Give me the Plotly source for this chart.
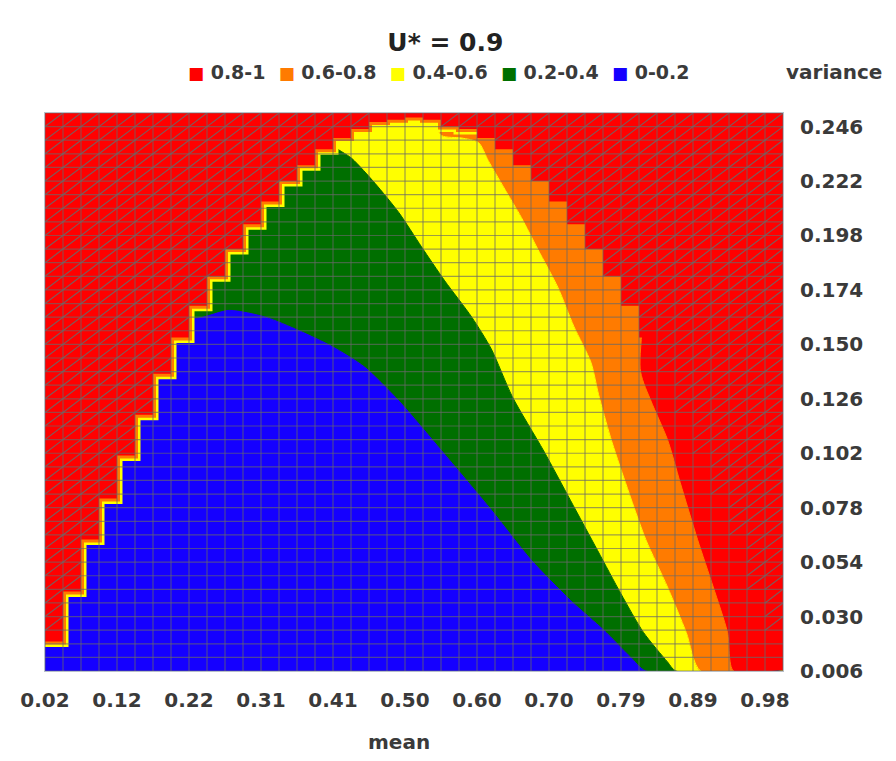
import plotly.graph_objects as go

# ---- grid (data points of the surface) ----
MEAN_GRID = [0.020, 0.044, 0.068, 0.092, 0.116, 0.140, 0.164, 0.188, 0.212, 0.236,
             0.260, 0.284, 0.308, 0.332, 0.356, 0.380, 0.404, 0.428, 0.452, 0.476,
             0.500, 0.524, 0.548, 0.572, 0.596, 0.620, 0.644, 0.668, 0.692, 0.716,
             0.740, 0.764, 0.788, 0.812, 0.836, 0.860, 0.884, 0.908, 0.932, 0.956,
             0.980, 1.004]
VAR_GRID = [0.006, 0.012, 0.018, 0.024, 0.030, 0.036, 0.042, 0.048, 0.054, 0.060,
            0.066, 0.072, 0.078, 0.084, 0.090, 0.096, 0.102, 0.108, 0.114, 0.120,
            0.126, 0.132, 0.138, 0.144, 0.150, 0.156, 0.162, 0.168, 0.174, 0.180,
            0.186, 0.192, 0.198, 0.204, 0.210, 0.216, 0.222, 0.228, 0.234, 0.240,
            0.246, 0.252]

# feasible ceiling (variance) per grid column; above it the surface is red/hatched
CEILING = [0.019, 0.041, 0.064, 0.082, 0.101, 0.119, 0.137, 0.153, 0.167, 0.180,
           0.192, 0.203, 0.213, 0.222, 0.229, 0.236, 0.241, 0.245, 0.248, 0.249,
           0.250, 0.249, 0.246, 0.245, 0.241, 0.236, 0.229, 0.222, 0.213, 0.203,
           0.192, 0.180, 0.167, 0.153, 0.137, 0.120, 0.102, 0.083, 0.063, 0.042,
           0.019]

X_TICK_LABELS = ["0.02", "0.12", "0.22", "0.31", "0.41", "0.50", "0.60", "0.70", "0.79", "0.89", "0.98"]
Y_TICK_LABELS = ["0.006", "0.030", "0.054", "0.078", "0.102", "0.126", "0.150", "0.174", "0.198", "0.222", "0.246"]

BAND_LABELS = ["0.8-1", "0.6-0.8", "0.4-0.6", "0.2-0.4", "0-0.2"]
BAND_COLORS = ["#ff0000", "#ff7b00", "#ffff00", "#006f00", "#1500ff"]

# ---- band boundaries (upper edge of each band) ----
B1_MEAN = [0.02, 0.190, 0.211, 0.266, 0.314, 0.359, 0.403, 0.446, 0.492, 0.549, 0.615, 0.668, 0.721, 0.765, 0.801, 0.821, 1.004]
B1_VAR = [0.252, 0.252, 0.162, 0.165, 0.162, 0.156, 0.149, 0.140, 0.125, 0.103, 0.077, 0.055, 0.037, 0.024, 0.012, 0.006, 0.006]

B2_MEAN = [0.02, 0.380, 0.403, 0.429, 0.460, 0.492, 0.522, 0.553, 0.589, 0.615, 0.643, 0.685, 0.721, 0.757, 0.788, 0.818, 0.850, 0.861, 1.004]
B2_VAR = [0.252, 0.252, 0.238, 0.232, 0.221, 0.208, 0.193, 0.178, 0.162, 0.148, 0.127, 0.103, 0.081, 0.059, 0.040, 0.023, 0.010, 0.006, 0.006]

B3_MEAN = [0.02, 0.529, 0.549, 0.575, 0.598, 0.611, 0.632, 0.655, 0.677, 0.704, 0.725, 0.748, 0.758, 0.774, 0.794, 0.821, 0.850, 0.875, 0.894, 1.004]
B3_VAR = [0.252, 0.252, 0.242, 0.241, 0.239, 0.231, 0.219, 0.206, 0.192, 0.175, 0.158, 0.142, 0.128, 0.109, 0.089, 0.064, 0.043, 0.023, 0.006, 0.006]

B4_MEAN = [0.02, 0.809, 0.814, 0.828, 0.850, 0.867, 0.890, 0.911, 0.930, 0.938, 1.004]
B4_VAR = [0.252, 0.252, 0.138, 0.125, 0.108, 0.089, 0.064, 0.043, 0.023, 0.006, 0.006]

RED, ORANGE, YELLOW, GREEN, BLUE = BAND_COLORS
FONT = "DejaVu Sans"
TXT = "#3a3a3a"

fig = go.Figure()


def band(xs, ys, color, fill):
    return go.Scatter(x=xs, y=ys, mode="lines", fill=fill, fillcolor=color,
                      line=dict(color=color, width=1, shape="spline", smoothing=0.7),
                      hoverinfo="skip", showlegend=False)


# filled bands
fig.add_trace(band(B1_MEAN, B1_VAR, BLUE, "tozeroy"))
fig.add_trace(band(B2_MEAN, B2_VAR, GREEN, "tonexty"))
fig.add_trace(band(B3_MEAN, B3_VAR, YELLOW, "tonexty"))
fig.add_trace(band(B4_MEAN, B4_VAR, ORANGE, "tonexty"))

# fringe along the staircase (left/top part)
n_fr = 24
fr_x = MEAN_GRID[:n_fr + 1]
fr_y = CEILING[:n_fr] + [CEILING[n_fr - 1]]
fig.add_trace(go.Scatter(x=fr_x, y=fr_y, mode="lines", line=dict(color=YELLOW, width=11, shape="hv"),
                         hoverinfo="skip", showlegend=False))
fig.add_trace(go.Scatter(x=fr_x, y=fr_y, mode="lines", line=dict(color=ORANGE, width=6, shape="hv"),
                         hoverinfo="skip", showlegend=False))

# infeasible region (red, stepped)
rx = list(MEAN_GRID) + [MEAN_GRID[-1], MEAN_GRID[0]]
ry = list(CEILING) + [CEILING[-1], VAR_GRID[-1], VAR_GRID[-1]]
fig.add_trace(go.Scatter(x=rx, y=ry, mode="lines", fill="toself", fillcolor=RED,
                         line=dict(color=RED, width=0, shape="hv"), hoverinfo="skip", showlegend=False))

# hatch in infeasible cells
hx, hy = [], []
for c, ceil in enumerate(CEILING):
    for r in range(len(VAR_GRID) - 1):
        if VAR_GRID[r] >= ceil - 1e-9:
            hx += [MEAN_GRID[c], MEAN_GRID[c + 1], None]
            hy += [VAR_GRID[r], VAR_GRID[r + 1], None]
fig.add_trace(go.Scatter(x=hx, y=hy, mode="lines", line=dict(color="rgba(105,105,105,0.85)", width=1.2),
                         hoverinfo="skip", showlegend=False))

# wireframe grid
gx, gy = [], []
for m in MEAN_GRID:
    gx += [m, m, None]
    gy += [VAR_GRID[0], VAR_GRID[-1], None]
for v in VAR_GRID:
    gx += [MEAN_GRID[0], MEAN_GRID[-1], None]
    gy += [v, v, None]
fig.add_trace(go.Scatter(x=gx, y=gy, mode="lines", line=dict(color="rgba(105,105,105,0.65)", width=1.2),
                         hoverinfo="skip", showlegend=False))

# legend as text
legend_parts = []
for lab, col in zip(BAND_LABELS, BAND_COLORS):
    legend_parts.append(f"<span style='color:{col};font-size:17px'>■</span> {lab}")
legend_text = "  ".join(legend_parts)

fig.update_layout(
    width=880, height=745,
    margin=dict(l=34, r=105, t=105, b=82),
    paper_bgcolor="white",
    plot_bgcolor=RED,
    showlegend=False,
    title=dict(text="<b>U* = 0.9</b>", x=0.497, xref="container", xanchor="center",
               y=0.954, yref="container", yanchor="middle",
               font=dict(family=FONT, size=25, color="#222222")),
    xaxis=dict(range=[MEAN_GRID[0], MEAN_GRID[-1]], tickvals=MEAN_GRID[::4], ticktext=X_TICK_LABELS,
               showgrid=False, zeroline=False, ticks="outside", ticklen=11, tickcolor="rgba(0,0,0,0)",
               tickfont=dict(family=FONT, size=20, color=TXT, weight="bold"),
               showline=True, mirror=True, linecolor="#b8c0c8", linewidth=1),
    yaxis=dict(range=[VAR_GRID[0], VAR_GRID[-1]], tickvals=VAR_GRID[::4], ticktext=Y_TICK_LABELS,
               side="right", showgrid=False, zeroline=False, ticks="outside", ticklen=12,
               tickcolor="rgba(0,0,0,0)",
               tickfont=dict(family=FONT, size=20, color=TXT, weight="bold"),
               showline=True, mirror=True, linecolor="#b8c0c8", linewidth=1),
    annotations=[
        dict(text=legend_text, x=0.533, y=1.0735, xref="paper", yref="paper",
             xanchor="center", yanchor="middle", showarrow=False,
             font=dict(family=FONT, size=19, color=TXT, weight="bold")),
        dict(text="variance", x=1.069, y=1.0735, xref="paper", yref="paper",
             xanchor="center", yanchor="middle", showarrow=False,
             font=dict(family=FONT, size=20, color=TXT, weight="bold")),
        dict(text="mean", x=0.479, y=-0.127, xref="paper", yref="paper",
             xanchor="center", yanchor="middle", showarrow=False,
             font=dict(family=FONT, size=20, color=TXT, weight="bold")),
    ],
)

fig.write_html("out.html")
